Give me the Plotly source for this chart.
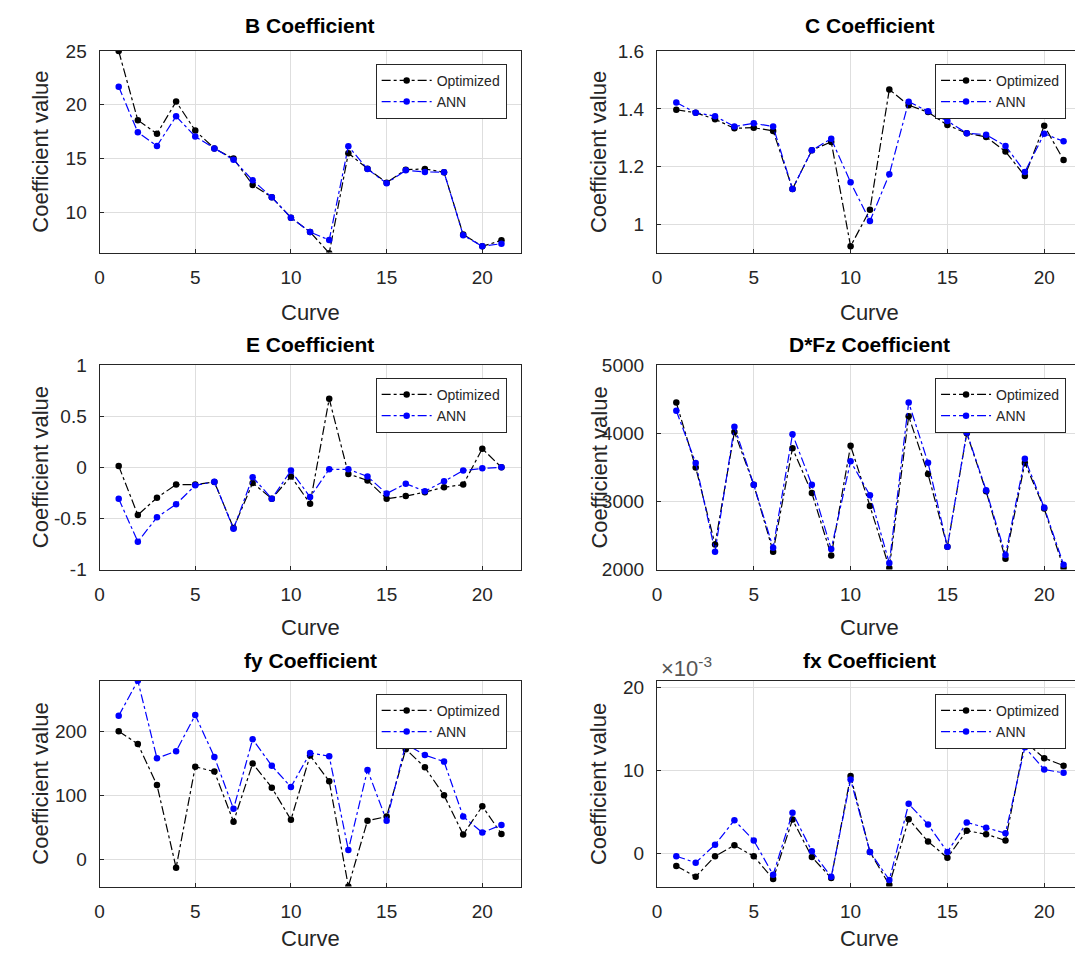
import plotly.graph_objects as go

curve = list(range(1, 22))

B_opt = [25.0, 18.57, 17.3, 20.3, 17.6, 15.94, 15.0, 12.55, 11.4, 9.5, 8.17, 6.2, 15.5, 14.06, 12.76, 13.97, 14.03, 13.73, 7.93, 6.84, 7.39]
B_ann = [21.68, 17.45, 16.18, 18.93, 17.05, 15.94, 14.88, 12.98, 11.4, 9.5, 8.17, 7.42, 16.15, 14.03, 12.7, 13.91, 13.76, 13.73, 7.87, 6.84, 7.08]

C_opt = [1.397, 1.387, 1.364, 1.333, 1.335, 1.324, 1.123, 1.257, 1.286, 0.925, 1.051, 1.467, 1.413, 1.389, 1.344, 1.316, 1.303, 1.253, 1.168, 1.342, 1.223]
C_ann = [1.422, 1.387, 1.375, 1.339, 1.350, 1.339, 1.123, 1.257, 1.297, 1.146, 1.012, 1.174, 1.425, 1.392, 1.358, 1.316, 1.311, 1.272, 1.182, 1.314, 1.288]

E_opt = [0.013, -0.466, -0.297, -0.169, -0.169, -0.144, -0.594, -0.153, -0.307, -0.089, -0.355, 0.671, -0.064, -0.128, -0.307, -0.281, -0.243, -0.195, -0.169, 0.182, 0.0]
E_ann = [-0.307, -0.728, -0.489, -0.361, -0.176, -0.141, -0.601, -0.096, -0.307, -0.032, -0.291, -0.019, -0.019, -0.089, -0.256, -0.160, -0.233, -0.137, -0.032, -0.010, 0.0]

DFz_opt = [4450, 3498, 2368, 4019, 3244, 2263, 3780, 3124, 2206, 3818, 2933, 2024, 4249, 3402, 2335, 4000, 3148, 2158, 3565, 2895, 2024]
DFz_ann = [4330, 3565, 2263, 4096, 3244, 2320, 3986, 3244, 2301, 3588, 3091, 2096, 4450, 3569, 2335, 4010, 3163, 2215, 3627, 2909, 2072]

fy_opt = [200, 180, 116, -12.6, 144.6, 137, 59, 149.6, 112, 62, 162, 122, -41.8, 60.5, 67, 172, 143.6, 100, 39, 83, 40]
fy_ann = [224, 278.6, 157.7, 168.8, 225, 159.7, 79, 187.4, 146, 113, 166, 161, 15, 139.5, 60.5, 180, 162.7, 152.6, 67, 42, 54]

fx_opt = [-1.52e-3, -2.82e-3, -0.34e-3, 0.97e-3, -0.34e-3, -3.1e-3, 4.08e-3, -0.45e-3, -2.98e-3, 9.33e-3, 0.18e-3, -3.8e-3, 4.12e-3, 1.44e-3, -0.53e-3, 2.74e-3, 2.31e-3, 1.56e-3, 13.47e-3, 11.5e-3, 10.59e-3]
fx_ann = [-0.34e-3, -1.12e-3, 1.05e-3, 4.0e-3, 1.56e-3, -2.58e-3, 4.91e-3, 0.26e-3, -2.82e-3, 8.93e-3, 0.18e-3, -3.2e-3, 5.98e-3, 3.49e-3, 0.18e-3, 3.73e-3, 3.1e-3, 2.43e-3, 12.8e-3, 10.12e-3, 9.72e-3]

titles = ["B Coefficient", "C Coefficient", "E Coefficient", "D*Fz Coefficient", "fy Coefficient", "fx Coefficient"]
series = [(B_opt, B_ann), (C_opt, C_ann), (E_opt, E_ann), (DFz_opt, DFz_ann), (fy_opt, fy_ann), (fx_opt, fx_ann)]
y_ranges = [[6.25, 25], [0.903, 1.6], [-1, 1], [2000, 5000], [-42, 278], [-0.0040, 0.0208]]
y_ticks = [
    ([10, 15, 20, 25], ["10", "15", "20", "25"]),
    ([1.0, 1.2, 1.4, 1.6], ["1", "1.2", "1.4", "1.6"]),
    ([-1, -0.5, 0, 0.5, 1], ["-1", "-0.5", "0", "0.5", "1"]),
    ([2000, 3000, 4000, 5000], ["2000", "3000", "4000", "5000"]),
    ([0, 100, 200], ["0", "100", "200"]),
    ([0, 0.01, 0.02], ["0", "10", "20"]),
]
x_ticks = [0, 5, 10, 15, 20]

W, H = 1075, 966
FONT = "Liberation Sans, Arial, Helvetica, sans-serif"
AX = "#262626"

# pixel geometry
col_x = [(95, 518, [0, 22]), (655, 1075, [0, 21.59])]
row_y = [(42, 248), (363, 572), (686, 896)]
title_cx = [306.5, 869]
title_y = [16, 342, 665]
curve_y = [309, 631, 949]
ylab_x = [36, 597]

fig = go.Figure()
for i in range(6):
    r, c = divmod(i, 2)
    x0, x1, xr = col_x[c]
    yt, yb = row_y[r]
    n = i + 1
    xa = "x" if n == 1 else f"x{n}"
    ya = "y" if n == 1 else f"y{n}"
    lg = "legend" if n == 1 else f"legend{n}"
    opt, ann = series[i]
    fig.add_trace(go.Scatter(x=curve, y=opt, name="Optimized", mode="lines+markers",
                             line=dict(color="black", width=1.2, dash="dashdot"),
                             marker=dict(color="black", size=6.5),
                             xaxis=xa, yaxis=ya, legend=lg))
    fig.add_trace(go.Scatter(x=curve, y=ann, name="ANN", mode="lines+markers",
                             line=dict(color="#0000ff", width=1.2, dash="dashdot"),
                             marker=dict(color="#0000ff", size=6.5),
                             xaxis=xa, yaxis=ya, legend=lg))
    xkey = "xaxis" if n == 1 else f"xaxis{n}"
    ykey = "yaxis" if n == 1 else f"yaxis{n}"
    fig.update_layout(**{
        xkey: dict(domain=[x0 / W, x1 / W], range=xr, anchor=ya,
                   tickvals=x_ticks, ticks="inside", ticklen=4, tickcolor=AX,
                   showline=True, linecolor=AX, linewidth=1, mirror=True,
                   showgrid=True, gridcolor="#dedede", gridwidth=1, zeroline=False,
                   tickfont=dict(family=FONT, size=19, color=AX), ticklabelstandoff=8),
        ykey: dict(domain=[1 - yb / H, 1 - yt / H], range=y_ranges[i], anchor=xa,
                   tickvals=y_ticks[i][0], ticktext=y_ticks[i][1],
                   ticks="inside", ticklen=4, tickcolor=AX,
                   showline=True, linecolor=AX, linewidth=1, mirror=(c == 0),
                   showgrid=True, gridcolor="#dedede", gridwidth=1, zeroline=False,
                   tickfont=dict(family=FONT, size=19, color=AX), ticklabelstandoff=8),
        lg: dict(x=(x0 + (504 - 95) if c == 0 else 1066) / W, y=1 - (yt + 13) / H,
                 xanchor="right", yanchor="top", bgcolor="white",
                 bordercolor=AX, borderwidth=1, itemwidth=50,
                 font=dict(family=FONT, size=14, color=AX), tracegroupgap=0),
    })
    fig.add_annotation(x=title_cx[c] / W, y=1 - title_y[r] / H, xref="paper", yref="paper",
                       text="<b>" + titles[i] + "</b>", showarrow=False,
                       font=dict(family=FONT, size=21, color="black"), xanchor="center", yanchor="middle")
    fig.add_annotation(x=title_cx[c] / W, y=1 - curve_y[r] / H, xref="paper", yref="paper",
                       text="Curve", showarrow=False,
                       font=dict(family=FONT, size=22, color=AX), xanchor="center", yanchor="middle")
    fig.add_annotation(x=ylab_x[c] / W, y=1 - (yt + yb) / 2 / H, xref="paper", yref="paper",
                       text="Coefficient value", showarrow=False, textangle=-90,
                       font=dict(family=FONT, size=22, color=AX), xanchor="center", yanchor="middle")

fig.add_annotation(x=657 / W, y=1 - 672 / H, xref="paper", yref="paper",
                   text="\u00d710<sup>-3</sup>", showarrow=False,
                   font=dict(family=FONT, size=22, color="#555555"), xanchor="left", yanchor="middle")

fig.update_layout(width=W, height=H, margin=dict(l=0, r=0, t=0, b=0),
                  paper_bgcolor="white", plot_bgcolor="white", showlegend=True)
fig.write_html("out.html")
